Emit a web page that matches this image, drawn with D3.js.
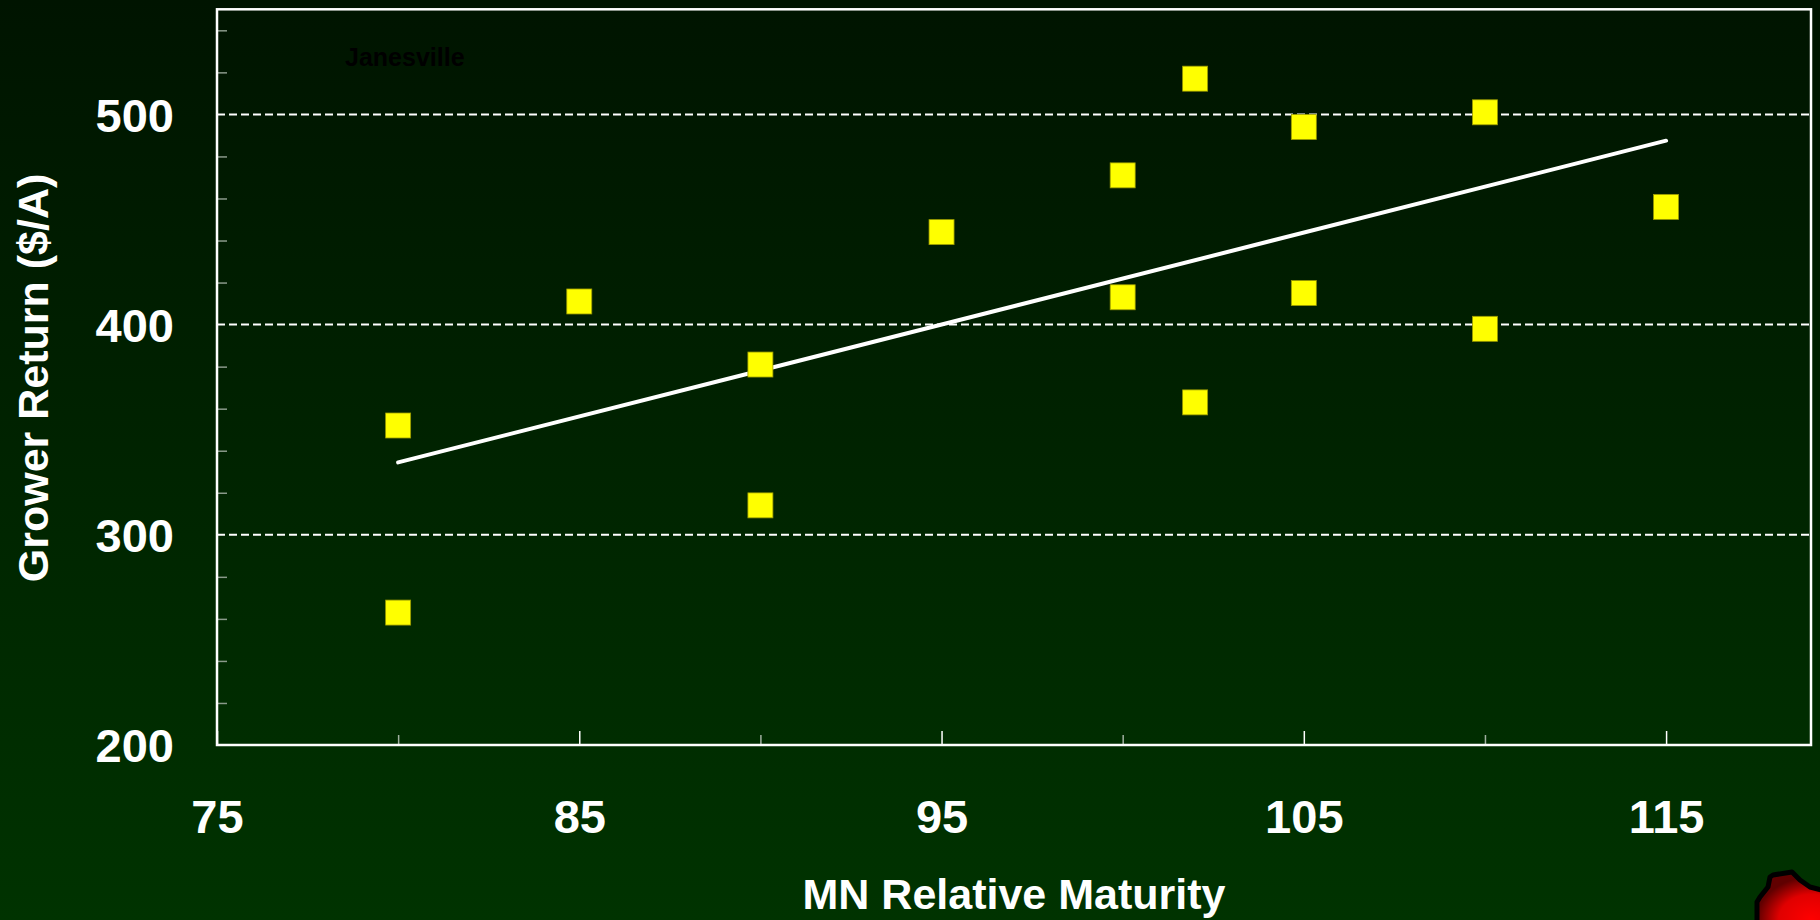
<!DOCTYPE html>
<html>
<head>
<meta charset="utf-8">
<script src="https://cdn.jsdelivr.net/npm/d3@7"></script>
<style>
  html, body { margin: 0; padding: 0; overflow: hidden; background: #001400; }
  svg { display: block; font-family: "Liberation Sans", Arial, sans-serif; }
</style>
</head>
<body>
<svg id="chart"></svg>
<script>
// data
var maturity = [80, 80, 85, 90, 90, 95, 100, 100, 102, 102, 105, 105, 110, 110, 115];
var grower_return = [352, 263, 411, 381, 314, 444, 471, 413, 517, 363, 494, 415, 501, 398, 456];
var xTickVals = [75, 85, 95, 105, 115];
var xMinorVals = [80, 90, 100, 110];
var yTickVals = [200, 300, 400, 500];
var yGridVals = [300, 400, 500];
var siteLabel = "Janesville";

var svgWidth = 1820, svgHeight = 920;
var margin = {top: 9.3, right: 9, bottom: 175, left: 217},
	width = svgWidth - margin.left - margin.right,
	height = svgHeight - margin.top - margin.bottom;

var svgRoot = d3.select("#chart").attr("width", svgWidth).attr("height", svgHeight);

// background gradient
var defs = svgRoot.append("defs");
var bg = defs.append("linearGradient").attr("id", "bgGrad")
	.attr("x1", 0).attr("y1", 0).attr("x2", 0).attr("y2", 1);
bg.append("stop").attr("offset", "0%").attr("stop-color", "#001400");
bg.append("stop").attr("offset", "100%").attr("stop-color", "#003300");

var redGrad = defs.append("radialGradient").attr("id", "redGrad")
	.attr("cx", "80%").attr("cy", "90%").attr("r", "80%");
redGrad.append("stop").attr("offset", "0%").attr("stop-color", "#ff0000");
redGrad.append("stop").attr("offset", "60%").attr("stop-color", "#e00000");
redGrad.append("stop").attr("offset", "100%").attr("stop-color", "#600000");

svgRoot.append("rect").attr("width", svgWidth).attr("height", svgHeight).attr("fill", "url(#bgGrad)");

var svg = svgRoot.append("g")
	.attr("transform", "translate(" + margin.left + "," + margin.top + ")");

var xScale = d3.scaleLinear().domain([75, 119]).range([0, width]);
var yScale = d3.scaleLinear().domain([200, 550]).range([height, 0]);

// dashed gridlines
svg.selectAll(".grid")
	.data(yGridVals)
	.enter().append("line")
	.attr("class", "grid")
	.attr("x1", 0).attr("x2", width)
	.attr("y1", function(d) { return yScale(d); })
	.attr("y2", function(d) { return yScale(d); })
	.attr("stroke", "#ffffff")
	.attr("stroke-width", 2)
	.attr("stroke-dasharray", "8,4");

// minor y ticks every 20 (inside)
var yMinor = d3.range(220, 550, 20).filter(function(d) { return d % 100 !== 0; });
svg.append("g")
	.attr("class", "axis")
	.call(d3.axisRight(yScale).tickValues(yMinor).tickSize(10).tickFormat(""))
	.call(function(g) { g.select(".domain").remove(); })
	.selectAll("line").attr("stroke", "#8a9a8a").attr("stroke-width", 1.5);

// x ticks inside plot
svg.append("g")
	.attr("transform", "translate(0," + height + ")")
	.call(d3.axisTop(xScale).tickValues(xMinorVals).tickSize(10).tickFormat(""))
	.call(function(g) { g.select(".domain").remove(); })
	.selectAll("line").attr("stroke", "#a0b0a0").attr("stroke-width", 1.5);

svg.append("g")
	.attr("transform", "translate(0," + height + ")")
	.call(d3.axisTop(xScale).tickValues(xTickVals).tickSize(14).tickFormat(""))
	.call(function(g) { g.select(".domain").remove(); })
	.selectAll("line").attr("stroke", "#ffffff").attr("stroke-width", 1.5);

// tick labels
var xax = svg.append("g")
	.attr("transform", "translate(0," + height + ")")
	.call(d3.axisBottom(xScale).tickValues(xTickVals).tickSize(0).tickPadding(0));
xax.select(".domain").remove();
xax.selectAll("text")
	.attr("y", 88)
	.attr("dy", 0)
	.attr("fill", "#ffffff")
	.attr("font-size", "47px")
	.attr("font-weight", "bold")
	.attr("font-family", "Liberation Sans, Arial, sans-serif");

var yax = svg.append("g")
	.call(d3.axisLeft(yScale).tickValues(yTickVals).tickSize(0).tickPadding(43));
yax.select(".domain").remove();
yax.selectAll("text")
	.attr("dy", "0.36em")
	.attr("fill", "#ffffff")
	.attr("font-size", "47px")
	.attr("font-weight", "bold")
	.attr("font-family", "Liberation Sans, Arial, sans-serif");

// plot frame
svg.append("rect")
	.attr("x", 0).attr("y", 0)
	.attr("width", width).attr("height", height)
	.attr("fill", "none")
	.attr("stroke", "#ffffff")
	.attr("stroke-width", 2.5);

// linear trend line from the data
var mx = d3.mean(maturity), my = d3.mean(grower_return);
var sxy = d3.sum(maturity, function(x, i) { return (x - mx) * (grower_return[i] - my); });
var sxx = d3.sum(maturity, function(x) { return (x - mx) * (x - mx); });
var slope = sxy / sxx, intercept = my - slope * mx;
var xExt = d3.extent(maturity);

svg.append("line")
	.attr("x1", xScale(xExt[0])).attr("y1", yScale(intercept + slope * xExt[0]))
	.attr("x2", xScale(xExt[1])).attr("y2", yScale(intercept + slope * xExt[1]))
	.attr("stroke", "#ffffff")
	.attr("stroke-width", 4)
	.attr("stroke-linecap", "round");

// points
var sq = 25;
svg.selectAll(".pt")
	.data(maturity)
	.enter().append("rect")
	.attr("class", "pt")
	.attr("x", function(d) { return xScale(d) - sq / 2; })
	.attr("y", function(d, i) { return yScale(grower_return[i]) - sq / 2; })
	.attr("width", sq).attr("height", sq)
	.attr("fill", "#ffff00")
	.attr("stroke", "#9a9a00")
	.attr("stroke-width", 0.8);

// site label
svg.append("text")
	.attr("x", 128).attr("y", 57)
	.attr("fill", "#000000")
	.attr("font-size", "25px")
	.attr("font-weight", "bold")
	.text(siteLabel);

// axis titles
svgRoot.append("text")
	.attr("x", 1014).attr("y", 909)
	.attr("text-anchor", "middle")
	.attr("fill", "#ffffff")
	.attr("font-size", "43px")
	.attr("font-weight", "bold")
	.text("MN Relative Maturity");

svgRoot.append("text")
	.attr("transform", "translate(48,378) rotate(-90)")
	.attr("text-anchor", "middle")
	.attr("fill", "#ffffff")
	.attr("font-size", "43px")
	.attr("font-weight", "bold")
	.text("Grower Return ($/A)");

// decorative red map corner
var corner = [[1757, 925], [1757, 902], [1760, 897], [1768, 887], [1770, 877], [1773, 875],
	[1792, 872], [1795, 875], [1800, 880], [1810, 887], [1825, 891], [1825, 925]];
svgRoot.append("path")
	.attr("d", d3.line()(corner) + "Z")
	.attr("fill", "url(#redGrad)")
	.attr("stroke", "#000000")
	.attr("stroke-width", 5)
	.attr("stroke-linejoin", "round");
</script>
</body>
</html>
